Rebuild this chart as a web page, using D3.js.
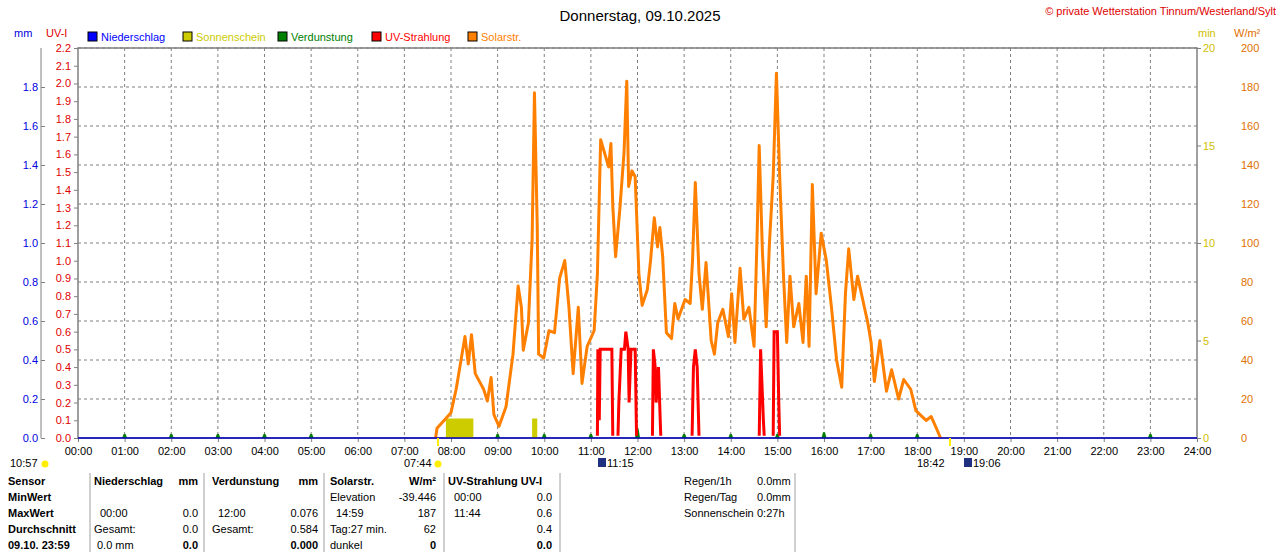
<!DOCTYPE html>
<html><head><meta charset="utf-8">
<script src="https://cdn.jsdelivr.net/npm/d3@7"></script>
<style>body{margin:0;background:#fff}text{font-family:"Liberation Sans",Arial,sans-serif;font-size:11px}</style>
</head><body><svg id="c" width="1280" height="552"></svg>
<script>
// solar radiation [hour, W/m²]
const solarH = [7.67,7.70,8.00,8.11,8.30,8.37,8.44,8.52,8.70,8.78,8.86,8.92,9.03,9.18,9.33,9.44,9.51,9.55,9.66,9.74,9.79,9.85,9.88,9.99,10.10,10.22,10.33,10.44,10.53,10.62,10.73,10.81,10.92,11.07,11.14,11.21,11.32,11.38,11.43,11.47,11.53,11.62,11.71,11.77,11.81,11.88,11.95,12.03,12.10,12.21,12.28,12.36,12.43,12.48,12.54,12.62,12.73,12.80,12.87,13.02,13.13,13.18,13.24,13.32,13.39,13.47,13.58,13.65,13.72,13.83,13.95,14.02,14.09,14.20,14.28,14.39,14.50,14.57,14.61,14.68,14.76,14.83,14.91,14.98,15.05,15.13,15.20,15.27,15.35,15.46,15.55,15.62,15.68,15.75,15.83,15.94,16.05,16.16,16.27,16.38,16.46,16.53,16.64,16.72,16.83,16.94,17.01,17.08,17.20,17.34,17.45,17.60,17.71,17.86,17.97,18.19,18.30,18.41,18.50];
const solarW = [0,5,13,25,52,38,53,33,25,19,31,12,6,16,43,78,67,45,59,102,177,108,43,41,55,54,82,91,67,33,67,28,47,55,84,153,144,139,151,119,93,117,146,183,129,137,134,84,68,76,91,113,98,108,93,54,51,69,61,71,69,91,131,84,66,90,50,43,59,66,52,74,49,87,61,67,47,108,150,95,57,100,134,187,134,84,49,83,57,69,49,83,47,130,74,105,91,67,40,26,74,97,71,83,71,59,49,29,50,24,35,20,30,25,14,9,11,5,0];
// UV index [hour, UV-I]
const uvH = [11.14,11.15,11.18,11.2,11.45,11.47,11.58,11.6,11.65,11.72,11.75,11.8,11.82,11.86,11.95,11.98,12.32,12.34,12.38,12.4,12.45,12.5,13.17,13.2,13.24,13.28,13.32,14.61,14.64,14.7,14.72,14.91,14.93,15.0,15.03,15.05];
const uvI  = [0,0.5,0.1,0.5,0.5,0,0,0.2,0.5,0.5,0.6,0.5,0.2,0.5,0.5,0,0,0.5,0.4,0.2,0.4,0,0,0.4,0.5,0.4,0,0,0.5,0.1,0,0,0.6,0.6,0.2,0];
// sunshine minutes [start, end, minutes]
const sunBlocks = [[7.89,8.48,1],[9.74,9.85,1]];
// evaporation [hour, mm]
const evapHours = [1,2,3,4,5,9,10,11,12,13,14,15,16,17,18,23];
const evapMm    = [0.02,0.02,0.02,0.02,0.02,0.02,0.02,0.02,0.05,0.02,0.02,0.02,0.03,0.02,0.02,0.02];
const uvTicks = d3.range(0,23).map(i=>i/10);
const mmTicks = d3.range(0,10).map(i=>i/5);
const hourTicks = d3.range(0,25);

const svg = d3.select("#c");
const L=78,R=1197,T=48,B=438;
const x = d3.scaleLinear().domain([0,24]).range([L,R]);
const yW = d3.scaleLinear().domain([0,200]).range([B,T]);
const yMm = d3.scaleLinear().domain([0,2]).range([B,T]);
const yUv = d3.scaleLinear().domain([0,2.2]).range([B,T]);
const yMin = d3.scaleLinear().domain([0,20]).range([B,T]);

svg.append("defs").append("clipPath").attr("id","above").append("rect").attr("x",L).attr("y",T).attr("width",R-L).attr("height",B-T-2.2);

// grid
const g = svg.append("g");
hourTicks.slice(1,24).forEach(h=>g.append("line").attr("x1",x(h)).attr("x2",x(h)).attr("y1",T).attr("y2",B).attr("stroke","#808080").attr("stroke-dasharray","3,3"));
d3.range(20,201,20).forEach(w=>g.append("line").attr("x1",L).attr("x2",R).attr("y1",yW(w)).attr("y2",yW(w)).attr("stroke","#808080").attr("stroke-dasharray","3,3"));
g.append("rect").attr("x",L).attr("y",T).attr("width",R-L).attr("height",B-T).attr("fill","none").attr("stroke","#808080").attr("stroke-width",1.5);

// axes
svg.append("g").attr("transform",`translate(${L},0)`).call(d3.axisLeft(yUv).tickValues(uvTicks).tickFormat(d3.format(".1f")).tickSize(4))
  .call(a=>{a.select(".domain").remove();a.selectAll("text").attr("fill","#e00000");a.selectAll("line").attr("stroke","#808080");});
svg.append("g").attr("transform",`translate(41,0)`).call(d3.axisRight(yMm).tickValues(mmTicks).tickFormat(d3.format(".1f")).tickSize(4))
  .call(a=>{a.select(".domain").attr("stroke","#808080").attr("d",`M0,${B}V${T}`);a.selectAll("text").attr("fill","#0000e0").attr("x",-3).attr("text-anchor","end");a.selectAll("line").attr("stroke","#808080");});
svg.append("g").attr("transform",`translate(${R},0)`).call(d3.axisRight(yMin).tickValues([0,5,10,15,20]).tickSize(4))
  .call(a=>{a.select(".domain").remove();a.selectAll("text").attr("fill","#d0c000").attr("x",6);a.selectAll("line").attr("stroke","#808080");});
svg.append("g").attr("transform",`translate(1238,0)`).call(d3.axisRight(yW).tickValues(d3.range(0,201,20)).tickSize(0))
  .call(a=>{a.select(".domain").remove();a.selectAll("text").attr("fill","#e07000");});
svg.append("g").attr("transform",`translate(0,${B})`).call(d3.axisBottom(x).tickValues(hourTicks).tickFormat(h=>String(h).padStart(2,"0")+":00").tickSize(4))
  .call(a=>{a.select(".domain").remove();a.selectAll("text").attr("fill","#000").attr("dy","0.9em");a.selectAll("line").attr("stroke","#808080");});

// sunshine
sunBlocks.forEach(b=>svg.append("rect").attr("x",x(b[0])).attr("width",x(b[1])-x(b[0])).attr("y",yMin(b[2])).attr("height",B-yMin(b[2])).attr("fill","#cccc00"));
// evaporation
evapHours.forEach((h,i)=>svg.append("path").attr("d",`M${x(h)-2.5},${B}L${x(h)-1},${yMm(evapMm[i])}L${x(h)+1},${yMm(evapMm[i])}L${x(h)+2.5},${B}Z`).attr("fill","#008000"));
// UV
svg.append("path").datum(uvH.map((h,i)=>[h,uvI[i]])).attr("d",d3.line().x(d=>x(d[0])).y(d=>yUv(d[1])))
  .attr("fill","none").attr("stroke","#ff0000").attr("stroke-width",3).attr("clip-path","url(#above)");
// solar
svg.append("path").datum(solarH.map((h,i)=>[h,solarW[i]])).attr("d",d3.line().x(d=>x(d[0])).y(d=>yW(d[1])))
  .attr("fill","none").attr("stroke","#ff8000").attr("stroke-width",3).attr("stroke-linejoin","round");
// rain zero line
svg.append("line").attr("x1",L).attr("x2",R).attr("y1",B).attr("y2",B).attr("stroke","#0000c0").attr("stroke-width",1.5);

// header
const txt=(xx,yy,s,c,o={})=>svg.append("text").attr("x",xx).attr("y",yy).attr("fill",c||"#000").attr("text-anchor",o.a||"start").attr("font-weight",o.b?"bold":null).style("font-size",o.fs||null).text(s);
txt(640,21,"Donnerstag, 09.10.2025","#000",{a:"middle",fs:"15px"});
txt(1276,15,"© private Wetterstation Tinnum/Westerland/Sylt","#e00000",{a:"end"});
txt(14,37,"mm","#0000e0");txt(46,37,"UV-I","#e00000");
txt(1198,37,"min","#d0c000");txt(1234,37,"W/m²","#e07000");
const leg=[["Niederschlag","#0000ff",88],["Sonnenschein","#cccc00",183],["Verdunstung","#008000",278],["UV-Strahlung","#ff0000",372],["Solarstr.","#ff8000",468]];
leg.forEach(l=>{svg.append("rect").attr("x",l[2]).attr("y",32).attr("width",9).attr("height",9).attr("fill",l[1]).attr("stroke","#000");txt(l[2]+13,41,l[0],l[1]);});

// sun events
txt(10,467,"10:57");svg.append("circle").attr("cx",45).attr("cy",464).attr("r",3.5).attr("fill","#ffee00");
txt(404,467,"07:44");svg.append("circle").attr("cx",438).attr("cy",464).attr("r",3.5).attr("fill","#ffee00");
svg.append("rect").attr("x",598).attr("y",458).attr("width",8).attr("height",9).attr("fill","#203080");txt(607,467,"11:15");
txt(917,467,"18:42");svg.append("rect").attr("x",964).attr("y",458).attr("width",8).attr("height",9).attr("fill","#203080");txt(973,467,"19:06");
svg.append("rect").attr("x",437).attr("y",438).attr("width",2).attr("height",8).attr("fill","#ffee00");
svg.append("rect").attr("x",949).attr("y",438).attr("width",2).attr("height",8).attr("fill","#ffee00");

// table
[90,204,324,444,560,795].forEach(xx=>svg.append("line").attr("x1",xx).attr("x2",xx).attr("y1",473).attr("y2",552).attr("stroke","#a0a0a0"));
const rows=[485,501,517,533,549];
["Sensor","MinWert","MaxWert","Durchschnitt","09.10. 23:59"].forEach((s,i)=>txt(8,rows[i],s,"#000",{b:true}));
txt(94,rows[0],"Niederschlag","#000",{b:true});txt(198,rows[0],"mm","#000",{b:true,a:"end"});
txt(100,rows[2],"00:00");txt(198,rows[2],"0.0","#000",{a:"end"});
txt(94,rows[3],"Gesamt:");txt(198,rows[3],"0.0","#000",{a:"end"});
txt(97,rows[4],"0.0 mm");txt(198,rows[4],"0.0","#000",{a:"end",b:true});
txt(212,rows[0],"Verdunstung","#000",{b:true});txt(318,rows[0],"mm","#000",{b:true,a:"end"});
txt(218,rows[2],"12:00");txt(318,rows[2],"0.076","#000",{a:"end"});
txt(212,rows[3],"Gesamt:");txt(318,rows[3],"0.584","#000",{a:"end"});
txt(318,rows[4],"0.000","#000",{a:"end",b:true});
txt(330,rows[0],"Solarstr.","#000",{b:true});txt(436,rows[0],"W/m²","#000",{b:true,a:"end"});
txt(330,rows[1],"Elevation");txt(436,rows[1],"-39.446","#000",{a:"end"});
txt(336,rows[2],"14:59");txt(436,rows[2],"187","#000",{a:"end"});
txt(330,rows[3],"Tag:27 min.");txt(436,rows[3],"62","#000",{a:"end"});
txt(330,rows[4],"dunkel");txt(436,rows[4],"0","#000",{a:"end",b:true});
txt(448,rows[0],"UV-Strahlung UV-I","#000",{b:true});
txt(454,rows[1],"00:00");txt(552,rows[1],"0.0","#000",{a:"end"});
txt(454,rows[2],"11:44");txt(552,rows[2],"0.6","#000",{a:"end"});
txt(552,rows[3],"0.4","#000",{a:"end"});txt(552,rows[4],"0.0","#000",{a:"end",b:true});
[["Regen/1h","0.0mm"],["Regen/Tag","0.0mm"],["Sonnenschein","0:27h"]].forEach((r,i)=>{txt(684,rows[i],r[0]);txt(757,rows[i],r[1]);});
</script></body></html>
